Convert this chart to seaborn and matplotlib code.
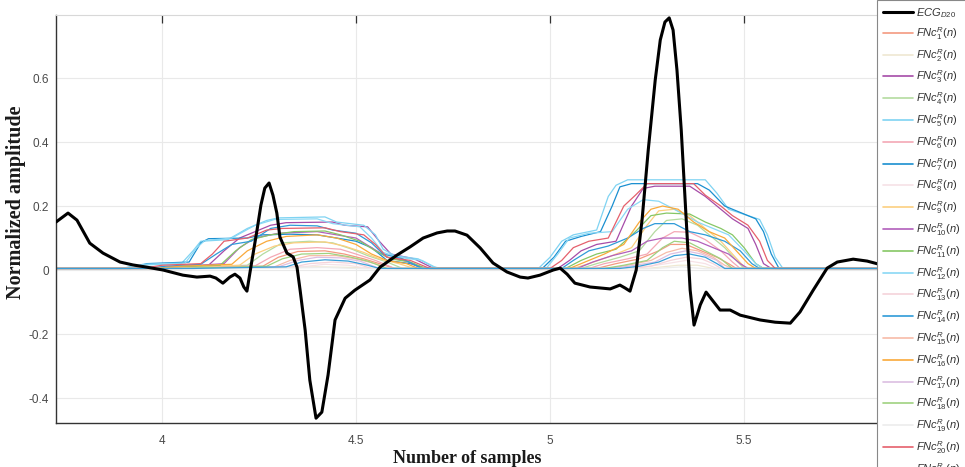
import numpy as np
import pandas as pd
import matplotlib
matplotlib.use("Agg")
import matplotlib.pyplot as plt
from matplotlib.lines import Line2D
import seaborn as sns

# ---------------- data ----------------
X_MIN, X_MAX = 3.727, 5.845
BASE = 0.005

ecg_x = [3.727, 3.758, 3.781, 3.814, 3.848, 3.892, 3.925, 3.961, 4.003, 4.054, 4.090, 4.124,
         4.139, 4.157, 4.175, 4.188, 4.201, 4.211, 4.219, 4.232, 4.245, 4.255, 4.265, 4.276,
         4.286, 4.296, 4.304, 4.322, 4.338, 4.348, 4.356, 4.369, 4.381, 4.397, 4.412, 4.428,
         4.446, 4.472, 4.497, 4.536, 4.562, 4.606, 4.639, 4.673, 4.709, 4.735, 4.755, 4.786,
         4.820, 4.853, 4.889, 4.923, 4.943, 4.974, 5.008, 5.026, 5.044, 5.064, 5.103, 5.155,
         5.180, 5.193, 5.206, 5.222, 5.237, 5.253, 5.271, 5.284, 5.296, 5.307, 5.317, 5.327,
         5.338, 5.348, 5.361, 5.371, 5.387, 5.402, 5.418, 5.438, 5.464, 5.490, 5.541, 5.580,
         5.619, 5.644, 5.678, 5.714, 5.740, 5.781, 5.817, 5.845]
ecg_y = [0.150, 0.178, 0.156, 0.084, 0.053, 0.025, 0.016, 0.009, 0.000, -0.016, -0.022, -0.019,
         -0.025, -0.041, -0.022, -0.013, -0.025, -0.053, -0.066, 0.031, 0.125, 0.203, 0.256, 0.272,
         0.234, 0.178, 0.103, 0.053, 0.041, 0.009, -0.063, -0.188, -0.344, -0.463, -0.444, -0.328,
         -0.156, -0.088, -0.063, -0.031, 0.009, 0.047, 0.072, 0.100, 0.116, 0.122, 0.122, 0.109,
         0.069, 0.022, -0.006, -0.022, -0.025, -0.016, 0.000, 0.006, -0.013, -0.041, -0.053, -0.059,
         -0.047, -0.056, -0.066, 0.000, 0.156, 0.375, 0.594, 0.719, 0.775, 0.788, 0.750, 0.625,
         0.438, 0.219, -0.063, -0.172, -0.109, -0.069, -0.094, -0.125, -0.125, -0.141, -0.156, -0.163,
         -0.166, -0.131, -0.063, 0.006, 0.025, 0.034, 0.028, 0.019]

# FNc^R_k(n) curves: (x, y) knots of each staircase (two activity zones)
FNC01 = [(4.05,.005),(4.14,.01),(4.26,.012),(4.30,.04),(4.35,.058),(4.42,.06),(4.47,.05),(4.52,.035),(4.56,.02),(4.60,.005),
         (5.12,.005),(5.17,.02),(5.23,.035),(5.28,.06),(5.31,.08),(5.35,.08),(5.39,.06),(5.43,.04),(5.46,.02),(5.48,.005)]
FNC02 = [(4.15,.005),(4.40,.01),(4.50,.008),(4.55,.005),
         (5.25,.005),(5.33,.015),(5.38,.015),(5.42,.005)]
FNC03 = [(3.97,.005),(4.02,.01),(4.12,.015),(4.16,.06),(4.20,.1),(4.24,.12),(4.28,.14),(4.32,.148),(4.44,.15),(4.47,.14),
         (4.53,.135),(4.56,.09),(4.59,.05),(4.65,.035),(4.70,.005),
         (5.02,.005),(5.05,.03),(5.08,.06),(5.12,.08),(5.17,.09),(5.21,.2),(5.24,.255),(5.27,.262),(5.36,.262),(5.40,.23),
         (5.44,.19),(5.47,.16),(5.51,.13),(5.53,.08),(5.55,.02),(5.57,.005)]
FNC04 = [(4.02,.005),(4.10,.01),(4.22,.015),(4.26,.05),(4.31,.085),(4.38,.09),(4.44,.085),(4.49,.065),(4.53,.045),(4.58,.025),(4.62,.005),
         (5.08,.005),(5.12,.02),(5.18,.04),(5.23,.06),(5.27,.12),(5.30,.155),(5.34,.16),(5.38,.14),(5.42,.1),(5.45,.07),(5.48,.03),(5.50,.005)]
FNC05 = [(3.90,.005),(3.93,.015),(4.05,.02),(4.08,.06),(4.10,.09),(4.17,.095),(4.22,.13),(4.27,.155),(4.30,.163),(4.42,.166),
         (4.45,.15),(4.52,.14),(4.55,.11),(4.57,.065),(4.60,.045),(4.66,.035),(4.70,.01),(4.72,.005),
         (4.97,.005),(5.00,.04),(5.03,.09),(5.06,.11),(5.12,.125),(5.15,.23),(5.17,.265),(5.20,.282),(5.40,.282),(5.43,.24),
         (5.46,.19),(5.49,.178),(5.54,.158),(5.56,.11),(5.58,.04),(5.60,.005)]
FNC06 = [(4.02,.005),(4.12,.01),(4.24,.013),(4.28,.04),(4.33,.065),(4.40,.07),(4.46,.065),(4.50,.05),(4.55,.03),(4.60,.005),
         (5.10,.005),(5.14,.02),(5.20,.035),(5.25,.05),(5.29,.1),(5.32,.12),(5.36,.118),(5.40,.095),(5.44,.06),(5.47,.025),(5.49,.005)]
FNC07 = [(3.92,.005),(3.96,.02),(4.07,.025),(4.10,.085),(4.12,.098),(4.22,.1),(4.26,.11),(4.33,.112),(4.40,.11),(4.45,.1),
         (4.50,.09),(4.54,.07),(4.58,.03),(4.64,.02),(4.68,.005),
         (4.98,.005),(5.01,.04),(5.04,.09),(5.08,.105),(5.13,.12),(5.16,.2),(5.18,.26),(5.21,.27),(5.38,.27),(5.41,.25),
         (5.45,.2),(5.48,.185),(5.53,.16),(5.55,.12),(5.57,.05),(5.59,.005)]
FNC08 = [(4.12,.005),(4.36,.01),(4.42,.018),(4.48,.015),(4.53,.005),
         (5.22,.005),(5.30,.02),(5.35,.03),(5.40,.02),(5.43,.005)]
FNC09 = [(4.00,.005),(4.08,.01),(4.20,.015),(4.24,.05),(4.29,.075),(4.34,.085),(4.42,.088),(4.47,.075),(4.52,.055),(4.56,.035),
         (4.61,.02),(4.65,.005),
         (5.06,.005),(5.10,.02),(5.16,.045),(5.21,.07),(5.25,.14),(5.28,.185),(5.32,.19),(5.36,.17),(5.40,.13),(5.44,.09),
         (5.47,.05),(5.50,.01),(5.52,.005)]
FNC10 = [(4.00,.005),(4.06,.012),(4.16,.02),(4.20,.07),(4.24,.1),(4.30,.115),(4.40,.12),(4.45,.11),(4.50,.1),(4.54,.07),
         (4.58,.04),(4.63,.028),(4.67,.005),
         (5.07,.005),(5.11,.025),(5.16,.045),(5.21,.06),(5.25,.09),(5.29,.1),(5.34,.1),(5.38,.09),(5.42,.07),(5.46,.05),
         (5.49,.02),(5.51,.005)]
FNC11 = [(3.98,.005),(4.04,.01),(4.15,.015),(4.19,.06),(4.23,.095),(4.28,.11),(4.34,.12),(4.42,.122),(4.46,.11),(4.51,.09),
         (4.55,.06),(4.59,.035),(4.64,.025),(4.68,.005),
         (5.04,.005),(5.08,.03),(5.12,.05),(5.17,.065),(5.22,.12),(5.26,.17),(5.30,.178),(5.36,.175),(5.40,.15),(5.44,.13),
         (5.47,.11),(5.50,.07),(5.53,.02),(5.55,.005)]
FNC12 = [(3.92,.005),(3.95,.018),(4.06,.022),(4.09,.07),(4.11,.092),(4.18,.1),(4.24,.14),(4.29,.158),(4.40,.16),(4.44,.145),
         (4.51,.135),(4.54,.1),(4.57,.055),(4.61,.04),(4.67,.03),(4.71,.005),
         (4.99,.005),(5.02,.05),(5.05,.1),(5.10,.115),(5.16,.12),(5.20,.19),(5.24,.22),(5.28,.215),(5.32,.19),(5.35,.17),
         (5.38,.15),(5.42,.13),(5.46,.11),(5.50,.06),(5.53,.02),(5.55,.005)]
FNC13 = [(4.10,.005),(4.24,.007),(4.34,.01),(4.38,.02),(4.44,.025),(4.50,.02),(4.54,.005),
         (5.20,.005),(5.26,.012),(5.31,.03),(5.35,.04),(5.39,.035),(5.42,.02),(5.44,.005)]
FNC14 = [(3.96,.005),(4.01,.012),(4.10,.018),(4.14,.05),(4.18,.08),(4.23,.09),(4.28,.13),(4.33,.14),(4.40,.138),(4.44,.125),
         (4.50,.115),(4.54,.085),(4.57,.05),(4.62,.035),(4.67,.005),
         (5.03,.005),(5.06,.03),(5.10,.06),(5.15,.075),(5.20,.1),(5.24,.13),(5.27,.145),(5.32,.145),(5.36,.12),(5.40,.11),
         (5.45,.09),(5.49,.06),(5.52,.02),(5.54,.005)]
FNC15 = [(4.06,.005),(4.18,.008),(4.29,.01),(4.33,.03),(4.38,.045),(4.45,.045),(4.50,.035),(4.55,.02),(4.58,.005),
         (5.15,.005),(5.20,.015),(5.26,.03),(5.30,.055),(5.34,.068),(5.38,.06),(5.42,.04),(5.45,.015),(5.47,.005)]
FNC16 = [(3.98,.005),(4.05,.012),(4.18,.018),(4.22,.06),(4.27,.09),(4.32,.105),(4.40,.11),(4.45,.1),(4.50,.08),(4.54,.05),
         (4.58,.03),(4.63,.02),(4.66,.005),
         (5.05,.005),(5.09,.025),(5.14,.05),(5.19,.08),(5.23,.15),(5.26,.19),(5.29,.2),(5.33,.19),(5.37,.15),(5.41,.12),
         (5.45,.1),(5.48,.06),(5.51,.02),(5.53,.005)]
FNC17 = [(4.08,.005),(4.20,.007),(4.30,.01),(4.35,.03),(4.40,.04),(4.46,.038),(4.51,.028),(4.56,.005),
         (5.16,.005),(5.22,.015),(5.27,.025),(5.31,.05),(5.35,.06),(5.39,.05),(5.43,.03),(5.45,.005)]
FNC18 = [(4.05,.005),(4.15,.008),(4.27,.012),(4.31,.035),(4.36,.05),(4.43,.052),(4.48,.042),(4.53,.028),(4.58,.005),
         (5.14,.005),(5.19,.015),(5.25,.03),(5.29,.07),(5.32,.09),(5.36,.085),(5.40,.06),(5.44,.035),(5.47,.005)]
FNC19 = [(4.18,.004),(4.42,.008),(4.52,.004),
         (5.26,.004),(5.34,.01),(5.40,.004)]
FNC20 = [(3.95,.005),(4.00,.015),(4.10,.02),(4.13,.05),(4.16,.09),(4.22,.1),(4.27,.125),(4.31,.13),(4.42,.132),(4.46,.12),
         (4.52,.11),(4.55,.08),(4.58,.04),(4.64,.03),(4.69,.005),
         (5.00,.005),(5.03,.03),(5.06,.07),(5.10,.09),(5.15,.1),(5.19,.2),(5.22,.234),(5.25,.27),(5.37,.27),(5.40,.234),
         (5.44,.2),(5.47,.17),(5.51,.14),(5.54,.09),(5.56,.03),(5.58,.005)]
FNC21 = [(4.08,.005),(4.22,.008),(4.32,.01),(4.36,.025),(4.42,.032),(4.48,.028),(4.53,.015),(4.56,.005),
         (5.18,.005),(5.23,.012),(5.28,.025),(5.32,.045),(5.36,.05),(5.40,.04),(5.43,.02),(5.45,.005)]

fnc_series = [FNC01, FNC02, FNC03, FNC04, FNC05, FNC06, FNC07, FNC08, FNC09, FNC10, FNC11,
              FNC12, FNC13, FNC14, FNC15, FNC16, FNC17, FNC18, FNC19, FNC20, FNC21]
fnc_colors = ['#f39a80', '#efe8d2', '#a64ca8', '#b4dba0', '#7fd3f2', '#f4a8b5', '#1a8fd0',
              '#f6e2e6', '#fccf80', '#b25fbb', '#86c765', '#8ad8f5', '#f5d3da', '#2f9bd8',
              '#f7bba8', '#f9a93a', '#dcbfe2', '#9fd280', '#ececec', '#e5606c', '#3a9fd8']
fnc_labels = [r'$FNc^{R}_{%d}(n)$' % (k + 1) for k in range(len(fnc_series))]
ecg_label = r'$ECG_{D20}$'

x_ticks = [4, 4.5, 5, 5.5]
x_tick_labels = ['4', '4.5', '5', '5.5']
y_ticks = [-0.4, -0.2, 0, 0.2, 0.4, 0.6]
y_tick_labels = ['-0.4', '-0.2', '0', '0.2', '0.4', '0.6']

# ---------------- long-form table ----------------
rows = []
for lab, knots in zip(fnc_labels, fnc_series):
    pts = [(X_MIN, BASE)] + list(knots) + [(X_MAX, BASE)]
    for i, (xv, yv) in enumerate(pts):
        rows.append((lab, i, xv, yv))
fnc_df = pd.DataFrame(rows, columns=['series', 'order', 'x', 'y'])
ecg_df = pd.DataFrame({'x': ecg_x, 'y': ecg_y})

# ---------------- style ----------------
sns.set_theme(style='whitegrid')
plt.rcParams['font.family'] = ['Liberation Sans', 'DejaVu Sans']
plt.rcParams['mathtext.fontset'] = 'custom'
plt.rcParams['mathtext.it'] = 'Liberation Sans:italic'
plt.rcParams['mathtext.rm'] = 'Liberation Sans'
plt.rcParams['axes.unicode_minus'] = False

fig = plt.figure(figsize=(9.65, 4.67), dpi=100)
ax = fig.add_axes([56 / 965, 44 / 467, (878 - 56) / 965, (423 - 15) / 467])
ax.set_facecolor('white')

palette = dict(zip(fnc_labels, fnc_colors))
sns.lineplot(data=fnc_df, x='x', y='y', hue='series', units='series', estimator=None,
             sort=False, palette=palette, hue_order=fnc_labels, linewidth=0.9,
             legend=False, ax=ax)
sns.lineplot(data=ecg_df, x='x', y='y', color='black', linewidth=2.2, sort=False,
             estimator=None, ax=ax, zorder=5)

ax.set_xlim(X_MIN, X_MAX)
ax.set_ylim(-0.478, 0.797)
ax.set_xticks(x_ticks)
ax.set_xticklabels(x_tick_labels)
ax.set_yticks(y_ticks)
ax.set_yticklabels(y_tick_labels)
ax.grid(True, color='#e9e9e9', linewidth=0.8)
ax.tick_params(axis='both', direction='in', length=6, width=0.9, color='#333333',
               labelsize=8.5, labelcolor='#4a4a4a', top=True, right=False)
ax.tick_params(axis='x', pad=9)
ax.tick_params(axis='y', pad=5)
for s in ['left', 'bottom']:
    ax.spines[s].set_color('#333333')
    ax.spines[s].set_linewidth(1.0)
ax.spines['top'].set_color('#d8d8d8')
ax.spines['top'].set_linewidth(0.8)
ax.spines['right'].set_visible(False)

ax.set_xlabel('Number of samples', fontfamily='Liberation Serif', fontweight='bold',
              fontsize=13, color='#1a1a1a', labelpad=2)
ax.set_ylabel('Normalized amplitude', fontfamily='Liberation Serif', fontweight='bold',
              fontsize=14.5, color='#1a1a1a', labelpad=0)
ax.yaxis.set_label_coords(-0.037, 0.54)

# legend
handles = [Line2D([], [], color='black', linewidth=2.2)] + \
          [Line2D([], [], color=c, linewidth=1.2) for c in fnc_colors]
labels = [ecg_label] + fnc_labels
leg = fig.legend(handles, labels, loc='upper left', bbox_to_anchor=(877 / 965, 1.0),
                 bbox_transform=fig.transFigure, fontsize=8, frameon=True, fancybox=False,
                 framealpha=1.0, edgecolor='#888888', handlelength=2.7, handletextpad=0.3,
                 labelspacing=0.45, borderpad=0.55, borderaxespad=0.0)
leg.get_frame().set_linewidth(0.8)
for t in leg.get_texts():
    t.set_color('#333333')

fig.savefig('out.png', dpi=100)
